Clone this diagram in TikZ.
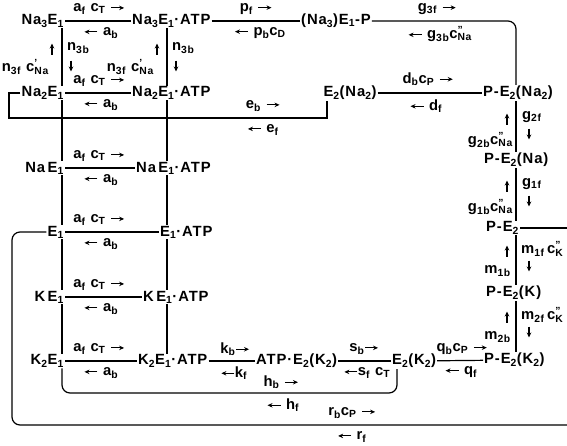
\documentclass[tikz,border=0pt]{standalone}
\usepackage{fontspec}
\setmainfont{Liberation Sans}[LetterSpace=6]
\usetikzlibrary{arrows.meta}
\newcommand\sbs[1]{\textsubscript{#1}}
\newcommand\cpr[2]{c\rlap{\textsuperscript{#1}}\textsubscript{#2}}
\newcommand\rar{\tikz[baseline=-3.8pt]\draw[line width=1.1pt,-{Stealth[length=5pt,width=4.5pt]}] (0pt,0pt)--(13pt,0pt);}
\newcommand\lar{\tikz[baseline=-3.8pt]\draw[line width=1.1pt,-{Stealth[length=5pt,width=4.5pt]}] (13pt,0pt)--(0pt,0pt);}
\newcommand\uar{\tikz\draw[line width=1.1pt,-{Stealth[length=5pt,width=4.5pt]}] (0pt,0pt)--(0pt,11pt);}
\newcommand\dar{\tikz\draw[line width=1.1pt,-{Stealth[length=5pt,width=4.5pt]}] (0pt,11pt)--(0pt,0pt);}
\begin{document}
\begin{tikzpicture}[x=1pt,y=-1pt,
  font=\fontsize{14.8}{17}\selectfont\bfseries,
  st/.style={inner sep=1pt},
  lb/.style={inner sep=0pt},
  ln/.style={line width=1.2pt},
  rc/.style={ln,rounded corners=8pt}]
\useasboundingbox (0,0) rectangle (567,445);
% vertical line x positions and free ends
\coordinate (vL) at (62,0);
\coordinate (vR) at (167,0);
\coordinate (vP) at (516,0);
\coordinate (vE) at (327,0);
\coordinate (vH) at (397,0);
\coordinate (rX) at (12,0);
\coordinate (eX) at (9,0);
\coordinate (eY) at (0,118);
\coordinate (hY) at (0,393);
\coordinate (rY) at (0,425);
\coordinate (rEnd) at (567,425);
\coordinate (pOut) at (567,0);
% states
\node[st,anchor=east] (a3) at (65,21) {Na\sbs3E\sbs1};
\node[st,anchor=west] (b3) at (131,21) {Na\sbs3E\sbs1·ATP};
\node[st,anchor=west] (c3) at (300,21) {(Na\sbs3)E\sbs1-P};
\node[st,anchor=east] (a2) at (65,93) {Na\sbs2E\sbs1};
\node[st,anchor=west] (b2) at (131,93) {Na\sbs2E\sbs1·ATP};
\node[st] (e2na2) at (350,93) {E\sbs2(Na\sbs2)};
\node[st,anchor=west] (p1) at (482,93) {P-E\sbs2(Na\sbs2)};
\node[st,anchor=west] (p2) at (483,160) {P-E\sbs2(Na)};
\node[st,anchor=west] (p3) at (485,228) {P-E\sbs2};
\node[st,anchor=west] (p4) at (485,293) {P-E\sbs2(K)};
\node[st,anchor=west] (p5) at (483,360) {P-E\sbs2(K\sbs2)};
\node[st,anchor=east] (a1) at (65,168) {Na\,E\sbs1};
\node[st,anchor=west] (b1) at (135,168) {Na\,E\sbs1·ATP};
\node[st,anchor=east] (a0) at (65,232) {E\sbs1};
\node[st,anchor=west] (b0) at (159,232) {E\sbs1·ATP};
\node[st,anchor=east] (ak) at (65,297) {K\,E\sbs1};
\node[st,anchor=west] (bk) at (142,297) {K\,E\sbs1·ATP};
\node[st,anchor=east] (ak2) at (65,361) {K\sbs2E\sbs1};
\node[st,anchor=west] (bk2) at (137,361) {K\sbs2E\sbs1·ATP};
\node[st,anchor=west] (ck2) at (255,361) {ATP·E\sbs2(K\sbs2)};
\node[st,anchor=west] (dk2) at (391,361) {E\sbs2(K\sbs2)};
% horizontal connectors
\draw[ln] (a3) -- (b3);
\draw[ln] (b3) -- (c3);
\draw[rc] (c3.east) -| (p1.north -| vP);
\draw[ln] (a2) -- (b2);
\draw[ln] (e2na2) -- (p1);
\draw[ln] (a2.west) -| (eX |- eY) -| (e2na2.south -| vE);
\draw[ln] (a1) -- (b1);
\draw[ln] (a0) -- (b0);
\draw[ln] (ak) -- (bk);
\draw[ln] (ak2) -- (bk2);
\draw[ln] (bk2) -- (ck2);
\draw[ln] (ck2) -- (dk2);
\draw[ln] (dk2) -- (p5);
\draw[ln] (p3.east) -- (p3.east -| pOut);
\draw[rc] (ak2.south -| vL) -- (vL |- hY) -- (vH |- hY) -- (dk2.south -| vH);
\draw[rc] (a0.west) -- (rX |- a0.west) -- (rX |- rY) -- (rEnd);
% vertical connectors
\draw[ln] (a3.south -| vL) -- (a2.north -| vL);
\draw[ln] (a2.south -| vL) -- (a1.north -| vL);
\draw[ln] (a1.south -| vL) -- (a0.north -| vL);
\draw[ln] (a0.south -| vL) -- (ak.north -| vL);
\draw[ln] (ak.south -| vL) -- (ak2.north -| vL);
\draw[ln] (b3.south -| vR) -- (b2.north -| vR);
\draw[ln] (b2.south -| vR) -- (b1.north -| vR);
\draw[ln] (b1.south -| vR) -- (b0.north -| vR);
\draw[ln] (b0.south -| vR) -- (bk.north -| vR);
\draw[ln] (bk.south -| vR) -- (bk2.north -| vR);
\draw[ln] (p1.south -| vP) -- (p2.north -| vP);
\draw[ln] (p2.south -| vP) -- (p3.north -| vP);
\draw[ln] (p3.south -| vP) -- (p4.north -| vP);
\draw[ln] (p4.south -| vP) -- (p5.north -| vP);
% rate labels, a rows
\foreach \y/\n in {21/1,93/2,168/3,232/4,297/5,361/6}{
  \node[lb] (af\n) at (99,\y-12) {a\sbs{f} c\sbs{T} \rar};
  \node[lb] (ab\n) at (101,\y+12) {\lar\ a\sbs{b}};
}
\node[lb] (pf) at (256,9) {p\sbs{f} \rar};
\node[lb] (pb) at (260,33) {\lar\ p\sbs{b}c\sbs{D}};
\node[lb] (g3f) at (437,9) {g\sbs{3f} \rar};
\node[lb] (g3b) at (440,34) {\lar\ g\sbs{3b}\cpr{''}{Na}};
% n3 labels
\node[lb,anchor=west] (n3bL) at (67,48) {n\sbs{3b}};
\node[lb] (n3dL) at (71,66) {\dar};
\node[lb] (n3uL) at (52,49) {\uar};
\node[lb,anchor=east] (n3fL) at (49,67) {n\sbs{3f} \cpr{'}{Na}};
\node[lb,anchor=west] (n3bR) at (172,48) {n\sbs{3b}};
\node[lb] (n3dR) at (176,66) {\dar};
\node[lb] (n3uR) at (157,49) {\uar};
\node[lb,anchor=east] (n3fR) at (154,67) {n\sbs{3f} \cpr{'}{Na}};
% d, e
\node[lb] (db) at (428,79) {d\sbs{b}c\sbs{P} \rar};
\node[lb] (df) at (426,106) {\lar\ d\sbs{f}};
\node[lb] (eb) at (263,106) {e\sbs{b} \rar};
\node[lb] (ef) at (263,130) {\lar\ e\sbs{f}};
% right column
\node[lb,anchor=west] (g2f) at (522,117) {g\sbs{2f}};
\node[lb] (g2d) at (529,134) {\dar};
\node[lb] (g2u) at (507,119) {\uar};
\node[lb,anchor=east] (g2b) at (513,140) {g\sbs{2b}\cpr{''}{Na}};
\node[lb,anchor=west] (g1f) at (522,184) {g\sbs{1f}};
\node[lb] (g1d) at (529,201) {\dar};
\node[lb] (g1u) at (507,186) {\uar};
\node[lb,anchor=east] (g1b) at (513,207) {g\sbs{1b}\cpr{''}{Na}};
\node[lb,anchor=west] (m1f) at (521,249) {m\sbs{1f}\,\cpr{''}{K}};
\node[lb] (m1d) at (529,266) {\dar};
\node[lb] (m1u) at (507,251) {\uar};
\node[lb,anchor=east] (m1b) at (511,271) {m\sbs{1b}};
\node[lb,anchor=west] (m2f) at (521,315) {m\sbs{2f}\,\cpr{''}{K}};
\node[lb] (m2d) at (529,332) {\dar};
\node[lb] (m2u) at (507,317) {\uar};
\node[lb,anchor=east] (m2b) at (511,337) {m\sbs{2b}};
% bottom row labels
\node[lb] (kb) at (235,349) {k\sbs{b}\rar};
\node[lb] (kf) at (234,373) {\lar k\sbs{f}};
\node[lb] (sb) at (364,349) {s\sbs{b}\rar};
\node[lb] (sf) at (367,373) {\lar s\sbs{f} c\sbs{T}};
\node[lb] (qb) at (462,349) {q\sbs{b}c\sbs{P} \rar};
\node[lb] (qf) at (461,372) {\lar\ q\sbs{f}};
\node[lb] (hb) at (281,382) {h\sbs{b} \rar};
\node[lb] (hf) at (283,405) {\lar\ h\sbs{f}};
\node[lb] (rb) at (352,413) {r\sbs{b}c\sbs{P} \rar};
\node[lb] (rf) at (352,437) {\lar\ r\sbs{f}};
\end{tikzpicture}
\end{document}
